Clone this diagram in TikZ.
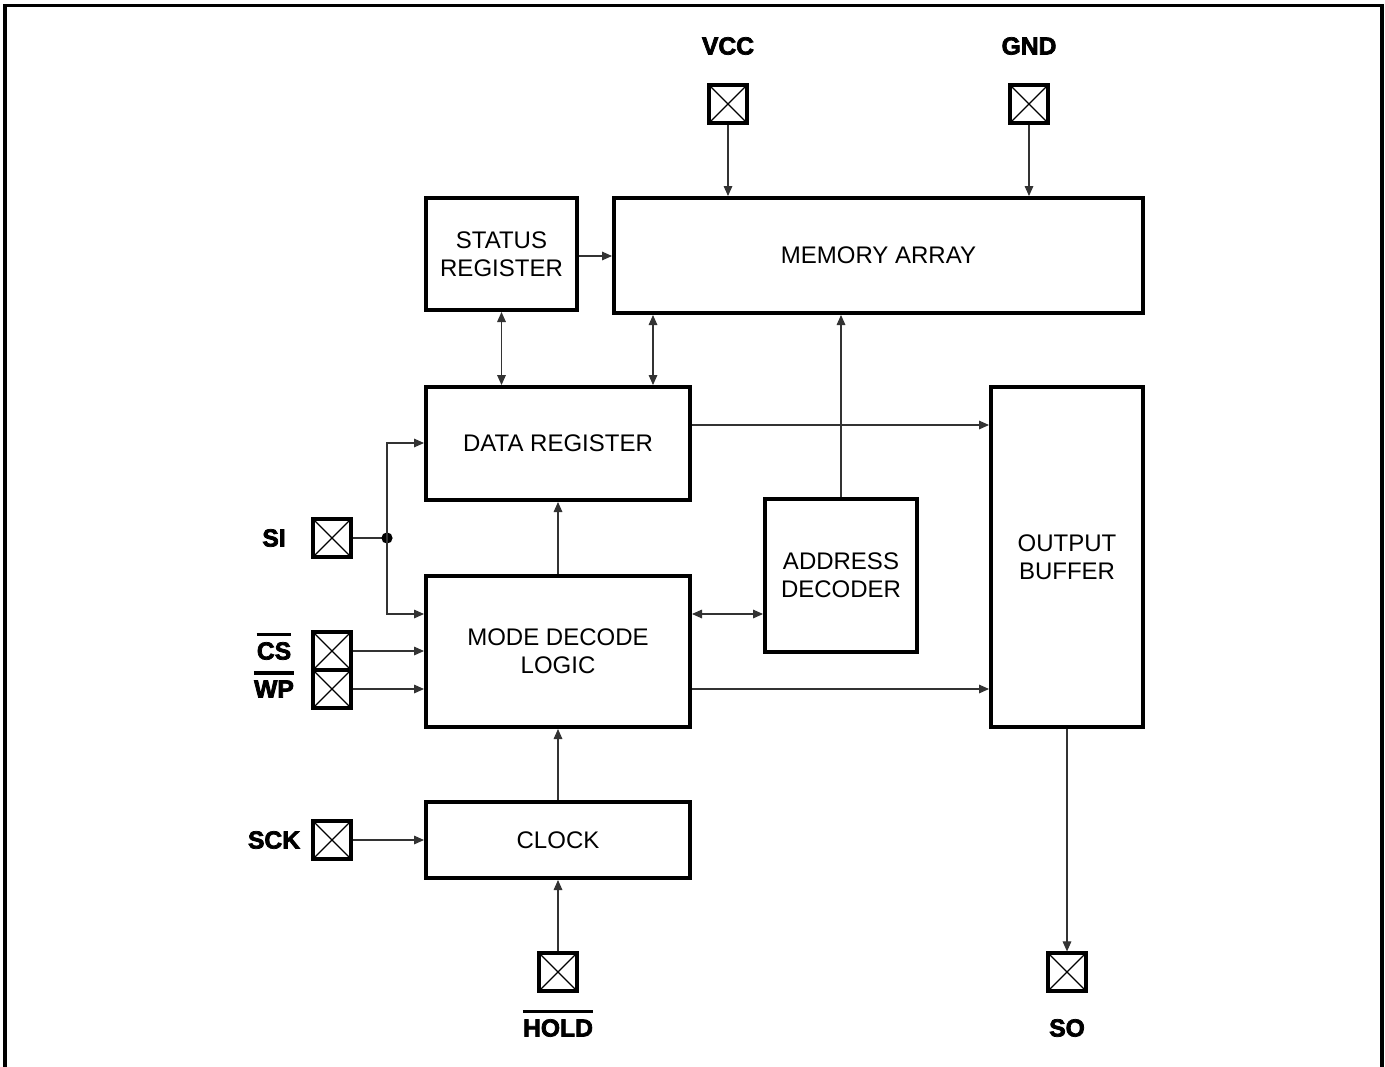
\documentclass[tikz,border=0pt]{standalone}
\usepackage{fontspec}
\setmainfont{Liberation Sans}
\newfontfamily\pinfont{Liberation Sans}[FakeBold=3]
\usetikzlibrary{arrows.meta}
\tikzset{
  blk/.style={draw, line width=3pt, rectangle, align=center, inner sep=0pt,
    font=\fontsize{18}{21}\selectfont},
  pin/.style={draw, line width=2.4pt, rectangle, minimum size=28.5pt, inner sep=0pt,
    path picture={\draw[line width=1pt]
      (path picture bounding box.north west) -- (path picture bounding box.south east)
      (path picture bounding box.north east) -- (path picture bounding box.south west);}},
  plabel/.style={font=\pinfont\bfseries\fontsize{18.5}{20}\selectfont, inner sep=0pt},
  wire/.style={line width=0.8pt, draw=black!80},
  arr/.style={wire, -{Triangle[length=7.5pt,width=6.5pt]}},
  darr/.style={wire, {Triangle[length=7.5pt,width=6.5pt]}-{Triangle[length=7.5pt,width=6.5pt]}},
  bar/.style={line width=2.4pt}
}
\begin{document}
\begin{tikzpicture}[x=0.75pt,y=-0.75pt]
\useasboundingbox (0,0) rectangle (1385,1067);
% frame
\draw[line width=2.6pt] (5,1080) -- (5,5.5) -- (1382,5.5) -- (1382,1080);

% blocks
\node[blk, minimum width=113.25pt, minimum height=84pt] (sr) at (501.5,254) {STATUS\\REGISTER};
\node[blk, minimum width=396.75pt, minimum height=86.25pt] (mem) at (878.5,255.5) {MEMORY ARRAY};
\node[blk, minimum width=198pt, minimum height=84.75pt] (dr) at (558,443.5) {DATA REGISTER};
\node[blk, minimum width=114pt, minimum height=255pt] (ob) at (1067,557) {OUTPUT\\BUFFER};
\node[blk, minimum width=114pt, minimum height=114.75pt] (ad) at (841,575.5) {ADDRESS\\DECODER};
\node[blk, minimum width=198pt, minimum height=113.25pt] (md) at (558,651.5) {MODE DECODE\\LOGIC};
\node[blk, minimum width=198pt, minimum height=57pt] (clk) at (558,840) {CLOCK};

% pins
\node[pin] (vcc) at (728,104) {};
\node[pin] (gnd) at (1029,104) {};
\node[pin] (si) at (332,538) {};
\node[pin] (cs) at (332,651) {};
\node[pin] (wp) at (332,689) {};
\node[pin] (sck) at (332,840) {};
\node[pin] (hold) at (558,972) {};
\node[pin] (so) at (1067,972) {};

% pin labels
\node[plabel] (lvcc) at (728,46) {VCC};
\node[plabel] (lgnd) at (1029,46) {GND};
\node[plabel] (lsi) at (274,538) {SI};
\node[plabel] (lcs) at (274,651) {CS};
\node[plabel] (lwp) at (274,689) {WP};
\node[plabel] (lsck) at (274,840) {SCK};
\node[plabel] (lhold) at (558,1028) {HOLD};
\node[plabel] (lso) at (1067,1028) {SO};
\draw[bar] ([yshift=5.5pt]lcs.north west) -- ([yshift=5.5pt]lcs.north east);
\draw[bar] ([yshift=5.5pt]lwp.north west) -- ([yshift=5.5pt]lwp.north east);
\draw[bar] ([yshift=5.5pt]lhold.north west) -- ([yshift=5.5pt]lhold.north east);

% connectors
\draw[arr] (vcc.south) -- (vcc.south |- mem.north);
\draw[arr] (gnd.south) -- (gnd.south |- mem.north);
\draw[arr] (sr.east |- 0,256) -- (mem.west |- 0,256);
\draw[darr] (sr.south) -- (sr.south |- dr.north);
\draw[darr] (mem.south -| 653,0) -- (dr.north -| 653,0);
\draw[arr] (ad.north) -- (ad.north |- mem.south);
\draw[arr] (dr.east |- 0,425) -- (ob.west |- 0,425);
\coordinate (j) at (387,538);
\draw[wire] (si.east) -- (j);
\fill (j) circle (4.2pt);
\draw[arr] (j) |- (dr.west |- 0,443);
\draw[arr] (j) |- (md.west |- 0,614);
\draw[arr] (cs.east) -- (cs.east -| md.west);
\draw[arr] (wp.east) -- (wp.east -| md.west);
\draw[darr] (md.east |- 0,614) -- (ad.west |- 0,614);
\draw[arr] (md.east |- 0,689) -- (ob.west |- 0,689);
\draw[arr] (md.north) -- (dr.south);
\draw[arr] (clk.north) -- (md.south);
\draw[arr] (sck.east) -- (sck.east -| clk.west);
\draw[arr] (hold.north) -- (clk.south);
\draw[arr] (ob.south) -- (so.north);
\end{tikzpicture}
\end{document}
